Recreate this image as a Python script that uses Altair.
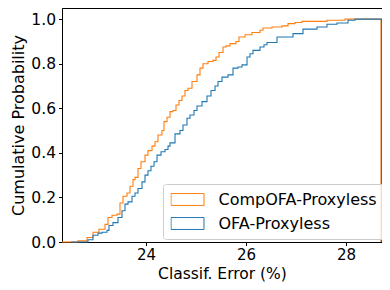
import altair as alt
import pandas as pd

# CompOFA-Proxyless cumulative histogram (step edges, cumulative prob)
comp_x = [22.32, 22.64, 22.82, 22.94, 23.06, 23.18, 23.24, 23.32, 23.42, 23.48,
          23.54, 23.62, 23.68, 23.74, 23.78, 23.84, 23.90, 23.98, 24.04, 24.12,
          24.18, 24.24, 24.32, 24.36, 24.42, 24.48, 24.54, 24.60, 24.66, 24.72,
          24.78, 24.84, 24.92, 25.02, 25.08, 25.14, 25.24, 25.34, 25.40, 25.46,
          25.54, 25.60, 25.68, 25.80, 25.86, 25.98, 26.12, 26.28, 26.34, 26.52,
          26.72, 26.84, 26.98, 27.12, 27.62, 27.98]
comp_y = [0.0, 0.005, 0.02, 0.044, 0.057, 0.079, 0.11, 0.12, 0.125, 0.175,
          0.205, 0.22, 0.25, 0.28, 0.29, 0.33, 0.36, 0.39, 0.41, 0.43,
          0.45, 0.48, 0.50, 0.54, 0.56, 0.585, 0.59, 0.615, 0.635, 0.655,
          0.68, 0.69, 0.72, 0.75, 0.78, 0.80, 0.81, 0.815, 0.83, 0.85,
          0.875, 0.88, 0.89, 0.90, 0.92, 0.93, 0.94, 0.95, 0.96, 0.965,
          0.97, 0.98, 0.985, 0.99, 0.995, 1.0]

# OFA-Proxyless
ofa_x = [22.50, 22.84, 22.94, 23.04, 23.12, 23.22, 23.26, 23.34, 23.44, 23.52,
         23.58, 23.64, 23.72, 23.78, 23.84, 23.92, 23.98, 24.04, 24.10, 24.16,
         24.22, 24.30, 24.38, 24.44, 24.48, 24.58, 24.68, 24.74, 24.82, 24.88,
         24.96, 25.02, 25.12, 25.22, 25.30, 25.38, 25.44, 25.52, 25.64, 25.74,
         25.84, 25.92, 26.02, 26.08, 26.14, 26.28, 26.36, 26.42, 26.62, 26.94,
         27.14, 27.42, 27.62, 27.82, 28.04, 28.18]
ofa_y = [0.0, 0.01, 0.03, 0.04, 0.044, 0.052, 0.074, 0.087, 0.11, 0.14,
         0.17, 0.18, 0.205, 0.22, 0.24, 0.27, 0.30, 0.32, 0.34, 0.36,
         0.39, 0.405, 0.415, 0.43, 0.445, 0.485, 0.50, 0.525, 0.555, 0.57,
         0.59, 0.61, 0.63, 0.655, 0.68, 0.70, 0.72, 0.74, 0.75, 0.78,
         0.785, 0.795, 0.83, 0.845, 0.86, 0.875, 0.885, 0.895, 0.92, 0.935,
         0.955, 0.965, 0.977, 0.983, 0.995, 1.0]

comp_end = 28.70
ofa_end = 28.71

series = ["CompOFA-Proxyless", "OFA-Proxyless"]
colors = ["#ff7f0e", "#1f77b4"]


def build(name, xs, ys, end):
    pts = list(zip(xs, ys)) + [(end, ys[-1]), (end, 0.0)]
    return pd.DataFrame([{"series": name, "x": x, "y": y, "i": i}
                         for i, (x, y) in enumerate(pts)])


df_comp = build(series[0], comp_x, comp_y, comp_end)
df_ofa = build(series[1], ofa_x, ofa_y, ofa_end)

FONT = "DejaVu Sans"

xenc = alt.X("x:Q", title="Classif. Error (%)",
             scale=alt.Scale(domain=[22.32, 28.72], nice=False, zero=False),
             axis=alt.Axis(values=[24, 26, 28], format="d", labelPadding=1.5,
                           labelFontSize=15, titleFontSize=15.5,
                           titleBaseline="alphabetic", titleY=36.5))
yenc = alt.Y("y:Q", title="Cumulative Probability",
             scale=alt.Scale(domain=[0, 1.05], nice=False),
             axis=alt.Axis(values=[0, 0.2, 0.4, 0.6, 0.8, 1.0], format=".1f"))
cenc = alt.Color("series:N", title=None,
                 scale=alt.Scale(domain=series, range=colors),
                 legend=alt.Legend(orient="none", legendX=101, legendY=176,
                                   symbolType="M-1,-0.36L1,-0.36L1,0.36L-1,0.36Z",
                                   symbolSize=1089, symbolStrokeWidth=1,
                                   symbolFillColor="white",
                                   labelFontSize=16, labelFont=FONT,
                                   labelOffset=14, padding=7.5,
                                   clipHeight=16, rowPadding=8,
                                   strokeColor="#cccccc",
                                   fillColor="rgba(255,255,255,0.8)",
                                   cornerRadius=3))

def layer(df):
    return alt.Chart(df).mark_line(interpolate="step-after", strokeWidth=1.1).encode(
        x=xenc, y=yenc, color=cenc, order="i:Q")

chart = alt.layer(layer(df_comp), layer(df_ofa)).properties(
    width=320, height=234,
    autosize=alt.AutoSizeParams(type="none"),
    padding={"left": 54, "top": 0, "right": 0, "bottom": 40},
).configure_view(stroke="black", strokeWidth=1).configure_axis(
    grid=False, domainColor="black", tickColor="black", labelColor="black",
    titleColor="black", labelFont=FONT, titleFont=FONT, labelFontSize=15.5,
    titleFontSize=16, titleFontWeight="normal", tickSize=3.5, labelPadding=3,
    titlePadding=4,
)

chart.save("out.html", embed_options={"renderer": "svg", "actions": False})
